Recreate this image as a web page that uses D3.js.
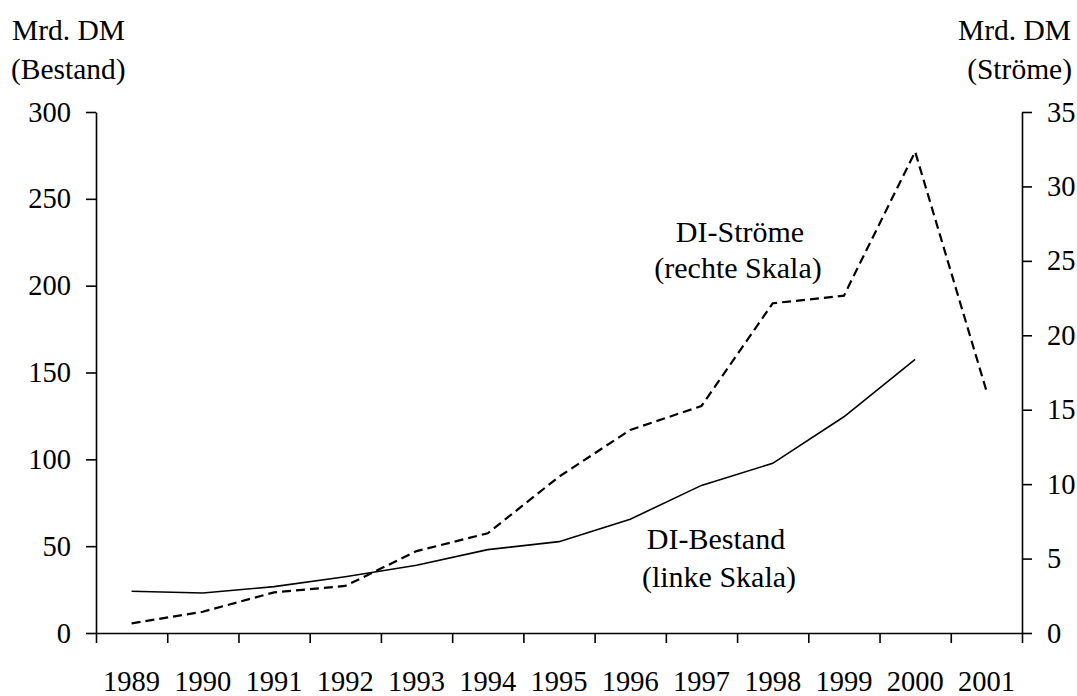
<!DOCTYPE html>
<html>
<head>
<meta charset="utf-8">
<script src="https://cdn.jsdelivr.net/npm/d3@7"></script>
<style>
  body { margin: 0; background: #fff; }
  svg text { font-family: "Liberation Serif", "Times New Roman", serif; fill: #000; }
</style>
</head>
<body>
<div id="chart"></div>
<script>
// years on the x axis
var years = ["1989","1990","1991","1992","1993","1994","1995","1996","1997","1998","1999","2000","2001"];
// DI-Bestand, Mrd. DM (left scale)
var bestand = [24, 23, 26.7, 32.4, 39, 48, 52.6, 65.5, 85, 97.7, 124.5, 157.6, null];
// DI-Ströme, Mrd. DM (right scale)
var stroeme = [0.65, 1.43, 2.73, 3.16, 5.5, 6.7, 10.5, 13.64, 15.25, 22.15, 22.66, 32.33, 16.28];
var leftTicks = [0, 50, 100, 150, 200, 250, 300];
var rightTicks = [0, 5, 10, 15, 20, 25, 30, 35];

(function() {
  var width = 1077, height = 696;
  var mLeft = 96, mRight = 1022, mTop = 112, mBottom = 633;
  var tickFont = 28.5, titleFont = 29.5, noteFont = 30;

  var svg = d3.select("#chart").append("svg")
      .attr("width", width)
      .attr("height", height);

  // band scale for the category centres, linear scale for the band edges (tick marks)
  var x = d3.scaleBand().domain(years).range([mLeft, mRight]).padding(0);
  var xEdge = d3.scaleLinear().domain([0, years.length]).range([mLeft, mRight]);
  var yL = d3.scaleLinear().domain([0, 300]).range([mBottom, mTop]);
  var yR = d3.scaleLinear().domain([0, 35]).range([mBottom, mTop]);

  function styleAxis(g) {
    g.selectAll("path.domain").attr("stroke", "#000").attr("stroke-width", 1.6);
    g.selectAll(".tick line").attr("stroke", "#000").attr("stroke-width", 1.6);
    g.selectAll(".tick text").style("font-size", tickFont + "px").attr("fill", "#000")
        .style("font-family", '"Liberation Serif", "Times New Roman", serif');
  }

  // x axis: ticks at band boundaries
  svg.append("g")
      .attr("transform", "translate(0," + mBottom + ")")
      .call(d3.axisBottom(xEdge).tickValues(d3.range(years.length + 1)).tickFormat("").tickSize(10).tickSizeOuter(0))
      .call(styleAxis);

  svg.append("g").selectAll("text")
      .data(years)
      .enter().append("text")
      .attr("x", function(d){ return x(d) + x.bandwidth() / 2; })
      .attr("y", 691)
      .attr("text-anchor", "middle")
      .style("font-size", tickFont + "px")
      .text(function(d){ return d; });

  // left axis
  svg.append("g")
      .attr("transform", "translate(" + mLeft + ",0)")
      .call(d3.axisLeft(yL).tickValues(leftTicks).tickSize(10).tickSizeOuter(0).tickPadding(15))
      .call(styleAxis);

  // right axis
  svg.append("g")
      .attr("transform", "translate(" + mRight + ",0)")
      .call(d3.axisRight(yR).tickValues(rightTicks).tickSize(10).tickSizeOuter(0).tickPadding(15))
      .call(styleAxis);

  // lines
  var lineL = d3.line()
      .defined(function(d){ return d != null; })
      .x(function(d, i){ return x(years[i]) + x.bandwidth() / 2; })
      .y(function(d){ return yL(d); });

  var lineR = d3.line()
      .defined(function(d){ return d != null; })
      .x(function(d, i){ return x(years[i]) + x.bandwidth() / 2; })
      .y(function(d){ return yR(d); });

  svg.append("path")
      .datum(bestand)
      .attr("d", lineL)
      .attr("fill", "none")
      .attr("stroke", "#000")
      .attr("stroke-width", 1.6);

  svg.append("path")
      .datum(stroeme)
      .attr("d", lineR)
      .attr("fill", "none")
      .attr("stroke", "#000")
      .attr("stroke-width", 2.2)
      .attr("stroke-dasharray", "9,5");

  // titles and annotations
  function label(txt, xPos, yPos, anchor, size) {
    svg.append("text")
        .attr("x", xPos)
        .attr("y", yPos)
        .attr("text-anchor", anchor)
        .style("font-size", size + "px")
        .text(txt);
  }
  label("Mrd. DM", 12, 40, "start", titleFont);
  label("(Bestand)", 11, 79, "start", titleFont);
  label("Mrd. DM", 1071, 40, "end", titleFont);
  label("(Ströme)", 1072, 79, "end", titleFont);

  label("DI-Ströme", 740, 242, "middle", noteFont);
  label("(rechte Skala)", 738, 278, "middle", noteFont);
  label("DI-Bestand", 716, 549, "middle", noteFont);
  label("(linke Skala)", 719, 587, "middle", noteFont);
})();
</script>
</body>
</html>
